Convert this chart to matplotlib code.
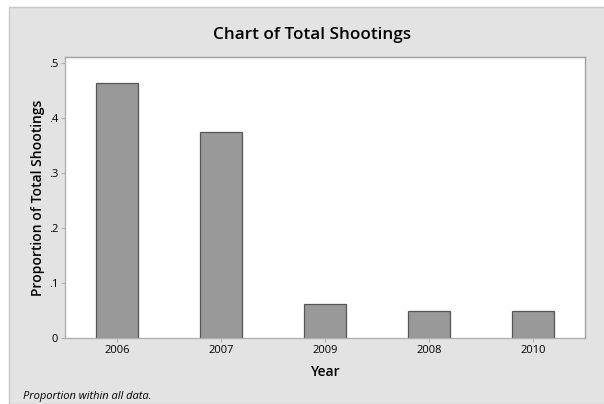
import matplotlib.pyplot as plt
import matplotlib
from matplotlib.patches import Rectangle

matplotlib.rcParams['font.family'] = ['Open Sans', 'DejaVu Sans']

# data
years = ['2006', '2007', '2009', '2008', '2010']
proportions = [0.4625, 0.375, 0.0625, 0.05, 0.05]
yticks = [0, 0.1, 0.2, 0.3, 0.4, 0.5]
ytick_labels = ['0', '.1', '.2', '.3', '.4', '.5']

fig = plt.figure(figsize=(6.04, 4.04), dpi=100)
fig.patch.set_facecolor('white')

# grey panel behind everything
fig.patches.append(Rectangle((9 / 604, 0), 1, 1 - 7 / 404, transform=fig.transFigure,
                             facecolor='#e3e3e3', edgecolor='#c8c8c8', lw=1.0, zorder=-10))

ax = fig.add_axes([0.1076, 0.1626, 0.969 - 0.1076, 0.8597 - 0.1626])
ax.bar(range(len(years)), proportions, width=0.4, color='#999999',
       edgecolor='#555555', linewidth=0.9)

ax.set_xlim(-0.5, len(years) - 0.5)
ax.set_ylim(0, 0.511)
ax.set_xticks(range(len(years)))
ax.set_xticklabels(years)
ax.set_yticks(yticks)
ax.set_yticklabels(ytick_labels)
ax.tick_params(axis='both', labelsize=8, colors='#b0b0b0', labelcolor='black',
               length=3, width=0.8, pad=2)

for side in ['left', 'bottom']:
    ax.spines[side].set_color('#b0b0b0')
for side in ['top', 'right']:
    ax.spines[side].set_color('#a0a0a0')
for s in ax.spines.values():
    s.set_linewidth(1.0)

ax.set_xlabel('Year', fontsize=10, fontweight='semibold', labelpad=6)
ax.set_ylabel('Proportion of Total Shootings', fontsize=10, fontweight='semibold', labelpad=3)

fig.text(0.516, 1 - 35 / 404, 'Chart of Total Shootings', ha='center', va='center',
         fontsize=12.3, fontweight='semibold')
fig.text(23 / 604, 1 - 396 / 404, 'Proportion within all data.', ha='left', va='center',
         fontsize=8, style='italic')

plt.savefig('out.png', dpi=100)
